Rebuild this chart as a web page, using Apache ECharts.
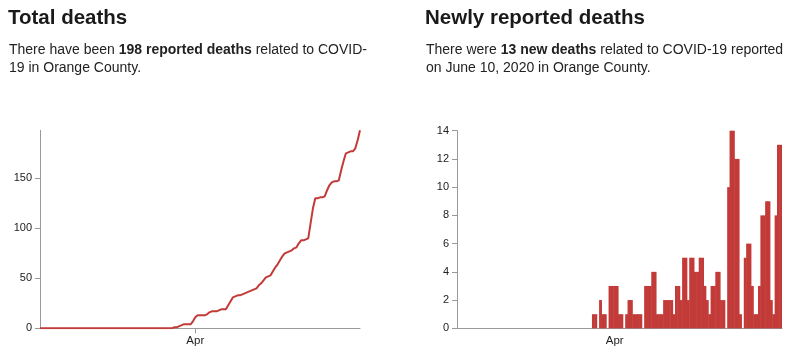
<!DOCTYPE html>
<html><head><meta charset="utf-8">
<script src="https://cdn.jsdelivr.net/npm/echarts@6/dist/echarts.min.js"></script>
<style>html,body{margin:0;padding:0;background:#fff}#c{width:792px;height:357px}</style>
</head><body><div id="c"></div>
<script>
// ---- data ----
const axisStart = '2020-01-26';
const axisEnd = '2020-06-10';
const aprDate = '2020-04-01';
const aprLabel = 'Apr';
// cumulative deaths, daily from Mar 22 to Jun 10 (0 before)
const totalStart = '2020-03-22';
const totalDeaths = [0,1,1,2,3,4,4,4,4,7,11,13,13,13,13,14,16,17,17,17,18,19,19,19,23,27,31,32,33,33,
  34,35,36,37,38,39,40,43,45,48,51,52,53,57,61,64,68,72,75,76,77,78,80,81,85,88,88,89,90,105,
  120,130,130,131,131,132,138,143,146,147,147,148,158,167,175,176,177,177,180,188,198];
// newly reported deaths, daily from Mar 23 to Jun 10
const newStart = '2020-03-23';
const newDeaths = [1,1,0,2,1,1,0,3,3,3,3,1,1,0,1,2,2,1,1,1,1,0,3,3,3,4,4,1,1,1,
  2,2,2,2,1,3,3,2,5,5,2,5,5,4,4,5,5,3,2,1,3,3,4,4,2,2,0,10,14,14,
  12,12,1,0,5,6,6,3,1,1,3,8,8,9,9,2,1,8,13,13];
const totalTicksMax = 198, totalInterval = 50;
const newTicksMax = 14, newInterval = 2;

// ---- helpers ----
function addDays(iso, n){const d=new Date(iso+'T00:00:00Z');d.setUTCDate(d.getUTCDate()+n);return d.toISOString().slice(0,10);}
const axisDates=[];for(let d=axisStart;d<=axisEnd;d=addDays(d,1))axisDates.push(d);
const lineData=[[axisStart,0]].concat(totalDeaths.map((v,i)=>[addDays(totalStart,i),v]));
const barData=newDeaths.map((v,i)=>[addDays(newStart,i),v]);

const FONT='"Liberation Sans", Arial, Helvetica, sans-serif';
const RED='#c23b38';
const GRAY='#999';
const isApr=(idx,val)=>val===aprDate;
function xAxis(gi,gap){return{type:'category',gridIndex:gi,data:axisDates,boundaryGap:gap,
  axisLine:{lineStyle:{color:GRAY,width:1}},
  axisTick:{interval:isApr,length:5,lineStyle:{color:GRAY}},
  axisLabel:{interval:isApr,formatter:v=>v===aprDate?aprLabel:'',color:'#222',fontSize:11.5,fontFamily:FONT,margin:7},
  splitLine:{show:false}};}
function yAxis(gi,max,iv){return{type:'value',gridIndex:gi,min:0,max:max,interval:iv,
  axisLine:{show:true,lineStyle:{color:GRAY,width:1}},
  axisTick:{show:true,length:5,lineStyle:{color:GRAY}},
  axisLabel:{showMaxLabel:max%iv===0,color:'#222',fontSize:11,fontFamily:FONT,margin:8},
  splitLine:{show:false}};}
const rich={n:{fontSize:14,fontFamily:FONT,color:'#222',fontWeight:'normal',lineHeight:18.3},
            b:{fontSize:14,fontFamily:FONT,color:'#222',fontWeight:'bold',lineHeight:18.3}};
const titleStyle={fontSize:20.5,fontWeight:'bold',fontFamily:FONT,color:'#1a1a1a'};
const bodyStyle={fontWeight:'normal',fontSize:14,fontFamily:FONT,color:'#222',rich:rich};
const chart=echarts.init(document.getElementById('c'),null,{renderer:'canvas'});
chart.setOption({
  animation:false,
  title:[
    {text:'Total deaths',left:8,top:8,padding:0,textStyle:titleStyle},
    {text:'{n|There have been }{b|198 reported deaths}{n| related to COVID-}\n{n|19 in Orange County.}',left:9,top:41,padding:0,textStyle:bodyStyle},
    {text:'Newly reported deaths',left:425,top:8,padding:0,textStyle:titleStyle},
    {text:'{n|There were }{b|13 new deaths}{n| related to COVID-19 reported}\n{n|on June 10, 2020 in Orange County.}',left:426,top:41,padding:0,textStyle:bodyStyle}
  ],
  grid:[
    {left:40,top:130.3,width:320,height:198,containLabel:false},
    {left:457,top:130.7,width:325,height:197.6,containLabel:false}
  ],
  xAxis:[xAxis(0,false),xAxis(1,true)],
  yAxis:[yAxis(0,totalTicksMax,totalInterval),yAxis(1,newTicksMax,newInterval)],
  series:[
    {type:'line',xAxisIndex:0,yAxisIndex:0,data:lineData,showSymbol:false,symbol:'none',
     lineStyle:{color:RED,width:2},itemStyle:{color:RED}},
    {type:'bar',xAxisIndex:1,yAxisIndex:1,data:barData,barWidth:2.9,barGap:'-100%',
     itemStyle:{color:RED}}
  ]
});
</script></body></html>
